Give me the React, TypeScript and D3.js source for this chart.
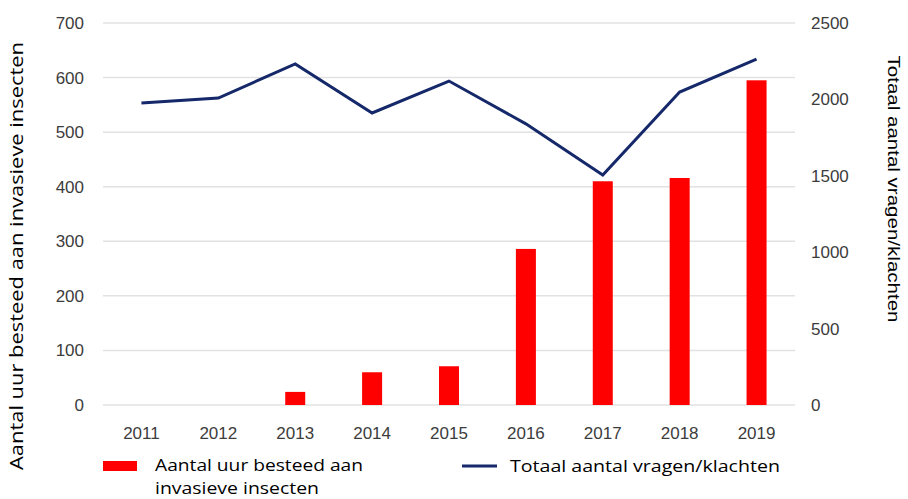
import React, { useEffect, useRef } from 'react';
import * as d3 from 'd3';

const years = ['2011', '2012', '2013', '2014', '2015', '2016', '2017', '2018', '2019'];
const hours = [0, 0, 24, 60, 71, 286, 410, 416, 595];
const questions = [1976, 2009, 2232, 1911, 2120, 1840, 1505, 2048, 2264];
const leftTicks = [0, 100, 200, 300, 400, 500, 600, 700];
const rightTicks = [0, 500, 1000, 1500, 2000, 2500];

const W = 908;
const H = 499;

const App = () => {
  const svgRef = useRef<SVGSVGElement>(null);

  useEffect(() => {
    const svg = d3.select(svgRef.current);
    svg.selectAll('*').remove();

    const x = d3.scaleBand().domain(years).range([103, 795]);
    const yL = d3.scaleLinear().domain([0, 700]).range([405, 23]);
    const yR = d3.scaleLinear().domain([0, 2500]).range([405, 23]);

    const g = svg.append('g');
    const tickFont = 'Liberation Sans, Arial, sans-serif';

    // gridlines
    g.selectAll('.grid')
      .data(leftTicks)
      .enter()
      .append('line')
      .attr('x1', 103)
      .attr('x2', 795)
      .attr('y1', d => yL(d))
      .attr('y2', d => yL(d))
      .attr('stroke', '#e2e2e2')
      .attr('stroke-width', 1.5);

    // left ticks
    g.selectAll('.lt')
      .data(leftTicks)
      .enter()
      .append('text')
      .attr('x', 84)
      .attr('y', d => yL(d) + 6)
      .attr('text-anchor', 'end')
      .attr('font-family', tickFont)
      .attr('font-size', 17)
      .attr('fill', '#3c3c3c')
      .text(d => d);

    // right ticks
    g.selectAll('.rt')
      .data(rightTicks)
      .enter()
      .append('text')
      .attr('x', 811)
      .attr('y', d => yR(d) + 6)
      .attr('font-family', tickFont)
      .attr('font-size', 17)
      .attr('fill', '#3c3c3c')
      .text(d => d);

    // x labels
    g.selectAll('.xl')
      .data(years)
      .enter()
      .append('text')
      .attr('x', d => x(d)! + x.bandwidth() / 2)
      .attr('y', 439)
      .attr('text-anchor', 'middle')
      .attr('font-family', tickFont)
      .attr('font-size', 17)
      .attr('fill', '#3c3c3c')
      .text(d => d);

    // bars
    const bw = 20;
    g.selectAll('.bar')
      .data(years)
      .enter()
      .append('rect')
      .attr('x', d => x(d)! + x.bandwidth() / 2 - bw / 2)
      .attr('width', bw)
      .attr('y', (d, i) => yL(hours[i]))
      .attr('height', (d, i) => yL(0) - yL(hours[i]))
      .attr('fill', '#ff0000');

    // line
    const line = d3.line<number>()
      .x((d, i) => x(years[i])! + x.bandwidth() / 2)
      .y(d => yR(d));
    g.append('path')
      .attr('d', line(questions))
      .attr('fill', 'none')
      .attr('stroke', '#15286a')
      .attr('stroke-width', 3);

    // axis titles
    g.append('text')
      .attr('transform', 'translate(23,256) rotate(-90)')
      .attr('text-anchor', 'middle')
      .attr('font-family', 'Open Sans, sans-serif')
      .attr('font-size', 18)
      .attr('fill', '#000')
      .attr('textLength', 428)
      .attr('lengthAdjust', 'spacingAndGlyphs')
      .text('Aantal uur besteed aan invasieve insecten');

    g.append('text')
      .attr('transform', 'translate(888,189) rotate(90)')
      .attr('text-anchor', 'middle')
      .attr('font-family', tickFont)
      .attr('font-size', 16)
      .attr('fill', '#000')
      .attr('textLength', 267)
      .attr('lengthAdjust', 'spacingAndGlyphs')
      .text('Totaal aantal vragen/klachten');

    // legend
    g.append('rect')
      .attr('x', 103).attr('y', 461).attr('width', 34).attr('height', 10)
      .attr('fill', '#ff0000');
    g.append('text')
      .attr('x', 155).attr('y', 471)
      .attr('font-family', 'Open Sans, sans-serif')
      .attr('font-size', 17)
      .attr('textLength', 208)
      .attr('lengthAdjust', 'spacingAndGlyphs')
      .text('Aantal uur besteed aan');
    g.append('text')
      .attr('x', 155).attr('y', 494)
      .attr('font-family', 'Open Sans, sans-serif')
      .attr('font-size', 17)
      .attr('textLength', 164)
      .attr('lengthAdjust', 'spacingAndGlyphs')
      .text('invasieve insecten');
    g.append('line')
      .attr('x1', 462).attr('x2', 497).attr('y1', 466).attr('y2', 466)
      .attr('stroke', '#15286a').attr('stroke-width', 3);
    g.append('text')
      .attr('x', 510).attr('y', 472)
      .attr('font-family', 'Open Sans, sans-serif')
      .attr('font-size', 17)
      .attr('textLength', 270)
      .attr('lengthAdjust', 'spacingAndGlyphs')
      .text('Totaal aantal vragen/klachten');
  }, []);

  return (
    <svg ref={svgRef} width={W} height={H} style={{ position: 'absolute', left: 0, top: 0, background: '#fff' }} />
  );
};

export default App;
